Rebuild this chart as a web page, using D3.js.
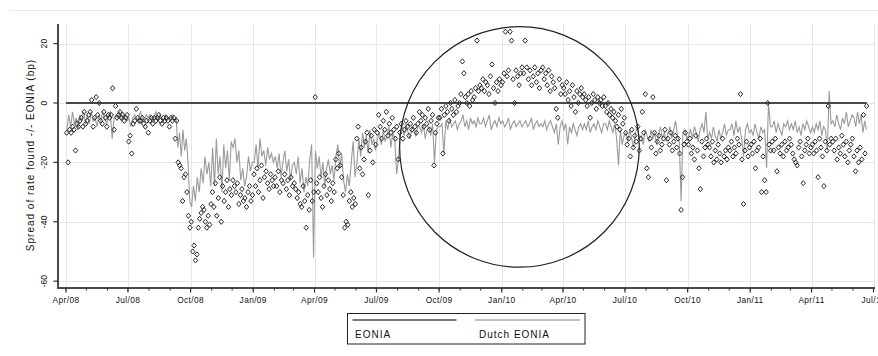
<!DOCTYPE html>
<html>
<head>
<meta charset="utf-8">
<script src="https://cdn.jsdelivr.net/npm/d3@7"></script>
<style>
  body { margin: 0; background: #fff; }
  text { font-family: "Liberation Sans", Arial, sans-serif; fill: #111; }
</style>
</head>
<body>
<svg id="chart" width="878" height="356"></svg>
<script>
// Months covered by the observations; each month's values are spread evenly over that month.
const months = [
  "2008-04","2008-05","2008-06","2008-07","2008-08","2008-09","2008-10","2008-11","2008-12",
  "2009-01","2009-02","2009-03","2009-04","2009-05","2009-06","2009-07","2009-08","2009-09","2009-10","2009-11","2009-12",
  "2010-01","2010-02","2010-03","2010-04","2010-05","2010-06","2010-07","2010-08","2010-09","2010-10","2010-11","2010-12",
  "2011-01","2011-02","2011-03","2011-04","2011-05","2011-06"
];
const firstObs = "2008-04-01";
const lastObs = "2011-06-21";

// Dutch EONIA minus EONIA (bp), per month
const dutchEonia = [
  [-9,-4,-8,-3,-7,-5,-9,-4,-6,-3,-7],
  [-4,-7,-3,-6,-5,-8,-4,-6,-3,-5,-7],
  [-4,-3,-12,-5,-4,-5,-3,-6,-4,-5,-6],
  [-5,-8,-5,-4,-6,-5,-3,-5,-6,-4,-5],
  [-4,-6,-5,-3,-6,-4,-5,-6,-4,-5,-5],
  [-5,-4,-6,-5,-15,-10,-18,-9,-16,-12,-20,-33],
  [-35,-28,-33,-25,-30,-22,-27,-18,-24,-20,-28],
  [-15,-28,-12,-24,-18,-30,-14,-22,-16,-26,-13],
  [-15,-12,-20,-16,-26,-22,-28,-25,-18,-23,-20],
  [-20,-14,-22,-12,-18,-16,-21,-15,-19,-17,-20],
  [-18,-22,-17,-25,-20,-16,-23,-19,-26,-21],
  [-20,-24,-18,-27,-22,-30,-25,-28,-19,-14,-52],
  [-16,-22,-18,-25,-20,-28,-22,-19,-24,-21,-26],
  [-18,-14,-22,-17,-26,-30,-24,-28,-20,-13,-25],
  [-20,-12,-18,-10,-15,-11,-17,-9,-14,-12,-16],
  [-12,-10,-14,-9,-13,-11,-8,-15,-10,-12,-24],
  [-19,-9,-8,-11,-7,-10,-12,-8,-9,-11,-8],
  [-8,-10,-7,-12,-9,-8,-11,-7,-20,-9,-8],
  [-8,-7,-17,-6,-9,-5,-8,-7,-6,-9,-7],
  [-6,-4,-8,-6,-9,-5,-7,-6,-8,-5,-7],
  [-7,-5,-8,-6,-4,-9,-7,-6,-8,-5,-7],
  [-6,-8,-7,-5,-9,-7,-6,-8,-7,-6,-8],
  [-7,-6,-8,-7,-5,-9,-7,-6,-8,-7],
  [-8,-6,-9,-7,-6,-8,-10,-7,-14,-8,-6],
  [-9,-7,-14,-8,-10,-7,-9,-11,-8,-7,-9],
  [-7,-9,-6,-10,-8,-7,-9,-6,-8,-10,-7],
  [-7,-9,-6,-8,-10,-7,-12,-21,-9,-14,-11],
  [-10,-13,-9,-12,-15,-10,-8,-12,-11,-14,-9],
  [-11,-13,-9,-12,-10,-14,-11,-8,-12,-10,-13],
  [-10,-8,-12,-9,-6,-11,-13,-33,-10,-9,-12],
  [-11,-9,-12,-8,-10,-13,-9,-7,-10,-3,-12],
  [-10,-12,-8,-11,-13,-9,-12,-10,-7,-11,-9],
  [-9,-7,-11,-6,-10,-8,-12,-18,-9,-7,-10],
  [-9,-11,-7,-10,-12,-8,-10,-9,-22,0,-8],
  [-8,-6,-10,-7,-9,-11,-7,-8,-6,-9],
  [-7,-9,-6,-10,-8,-11,-7,-9,-6,-8,-10],
  [-8,-10,-7,-9,-6,-11,-8,-9,-16,4,-7],
  [-6,-8,-4,-7,-9,-5,-7,-3,-8,-6,-4],
  [-5,-8,-3,-7,-4,-10,-6,-9]
];

// Rates found minus EONIA (bp), per month
const ratesFound = [
  [-10,-20,-9,-10,-8,-9,-16,-7,-8,-6,-5,-8,-3,-7],
  [-6,-4,-3,1,-8,-5,2,-4,0,-6,-7,-3,-5,-8],
  [-4,-5,-4,5,-9,-1,-5,-4,-3,-5,-4,-6,-5,-4],
  [-13,-11,-17,-7,-6,-2,-5,-6,-6,-5,-7,-8,-6,-10],
  [-6,-5,-7,-5,-6,-5,-4,-6,-7,-5,-6,-5,-6,-8],
  [-5,-6,-5,-12,-6,-20,-21,-22,-33,-25,-24,-30,-38,-42],
  [-40,-50,-48,-53,-51,-42,-39,-37,-35,-36,-40,-42,-38,-41,-34],
  [-30,-35,-27,-38,-32,-25,-40,-28,-33,-30,-26,-35,-29,-31],
  [-26,-28,-30,-27,-34,-31,-29,-33,-32,-35,-30,-28,-33,-31],
  [-24,-28,-22,-30,-26,-21,-32,-25,-23,-27,-29,-24,-26,-28],
  [-25,-28,-23,-30,-26,-27,-24,-29,-26,-31,-25,-28],
  [-27,-29,-32,-30,-34,-35,-28,-33,-42,-31,-36,-26,-33,-30],
  [2,-27,-30,-25,-32,-35,-28,-24,-31,-26,-29,-33,-27,-30],
  [-19,-22,-17,-21,-25,-31,-42,-40,-41,-33,-30,-35,-32,-34],
  [-12,-8,-22,-15,-24,-19,-13,-10,-31,-16,-11,-20,-9,-14],
  [-10,-4,-8,-12,-6,-9,-3,-11,-7,-10,-5,-9,-12,-8],
  [-19,-10,-7,-12,-9,-6,-8,-11,-7,-9,-5,-8,-10,-7],
  [-3,-6,-4,-8,-5,-7,-2,-9,-6,-4,-21,-10,-7,-5],
  [-5,-2,-17,-4,-1,-3,-6,0,-2,-4,1,-3,-1,0],
  [3,14,10,2,0,3,-1,4,1,2,5,21,4,6],
  [5,8,4,7,6,3,9,13,5,0,7,4,8,6],
  [7,10,24,9,11,24,21,8,0,11,9,6,10,12],
  [10,21,12,8,11,6,9,12,7,10,5,11],
  [12,8,10,6,11,4,9,7,5,-2,-5,8,3,6],
  [5,3,7,1,4,-1,6,2,-3,4,0,3,5,2],
  [3,1,-1,2,-5,0,3,1,-2,2,0,1,-1,2],
  [-1,-3,0,-4,-2,-5,-3,-6,-8,-4,-9,-2,-7,-5],
  [-10,-14,-12,-18,-9,-15,-11,-13,-8,-16,-12,-3,-10,3],
  [-22,-25,-12,-15,2,-10,-17,-13,-11,-16,-14,-12,-9,-26],
  [-12,-14,-10,-16,-13,-11,-15,-12,-17,-36,-25,-14,-10,-13],
  [-14,-12,-17,-15,-19,-11,-16,-22,-29,-13,-18,-15,-12,-14],
  [-15,-18,-13,-20,-16,-19,-14,-17,-20,-12,-18,-16,-19,-15],
  [-16,-13,-18,-15,-17,-12,-14,3,-19,-34,-16,-13,-18,-15],
  [-14,-17,-13,-22,-16,-15,-12,-30,-18,-26,-30,0,-14,-16],
  [-13,-16,-12,-23,-15,-17,-14,-18,-13,-16,-15,-12],
  [-14,-17,-19,-20,-21,-15,-13,-18,-27,-16,-14,-12,-17,-15],
  [-14,-17,-13,-16,-25,-12,-15,-18,-28,-13,-16,-1,-14,-12],
  [-13,-16,-12,-19,-15,-17,-11,-14,-18,-13,-20,-16,-14,-12],
  [-18,-23,-16,-20,-15,-19,-4,-17,-1]
];

// EONIA measured against itself: a flat zero line over the observation period
const eoniaSpread = [0, 0];

const yTicks = [20, 0, -20, -40, -60];
const xDomain = ["2008-04-01", "2011-07-01"];
const yDomain = [-62.3, 26.6];
const legendLabels = ["EONIA", "Dutch EONIA"];

// Highlighted period (ellipse around the positive-spread episode)
const highlightCenter = "2010-01-27";
const highlightCenterBp = -14.8;
const highlightHalfDays = 176;
const highlightHalfBp = 40.5;

// ---------------------------------------------------------------
const svg = d3.select("#chart");
const parseMonth = d3.utcParse("%Y-%m");
const parseDay = d3.utcParse("%Y-%m-%d");

const x = d3.scaleUtc().domain(xDomain.map(parseDay)).range([66, 873.5]);
const y = d3.scaleLinear().domain(yDomain).range([288, 24]);
const plotLeft = 58, plotRight = 875;

function spread(series) {
  const out = [];
  series.forEach((vals, i) => {
    const start = parseMonth(months[i]);
    const end = i === months.length - 1
      ? d3.utcDay.offset(parseDay(lastObs), 1)
      : d3.utcMonth.offset(start, 1);
    const span = end - start;
    vals.forEach((v, j) => out.push({ date: new Date(+start + (j + 0.5) / vals.length * span), value: v }));
  });
  return out;
}
const dutchPts = spread(dutchEonia);
const foundPts = spread(ratesFound);

// faint outer frame line
svg.append("line").attr("x1", 10).attr("x2", 878).attr("y1", 10.5).attr("y2", 10.5)
  .attr("stroke", "#e3ecec").attr("stroke-width", 1);

const quarters = d3.utcMonth.every(3).range(parseDay(xDomain[0]), d3.utcDay.offset(parseDay(xDomain[1]), 1));
const monthsAll = d3.utcMonth.range(parseDay(xDomain[0]), d3.utcDay.offset(parseDay(xDomain[1]), 1));

// gridlines
const grid = svg.append("g").attr("stroke", "#deeaee").attr("stroke-width", 1);
grid.selectAll(".vg").data(quarters).join("line")
  .attr("x1", d => Math.round(x(d)) + 0.5).attr("x2", d => Math.round(x(d)) + 0.5)
  .attr("y1", y.range()[1]).attr("y2", y.range()[0]);
grid.selectAll(".hg").data(yTicks).join("line")
  .attr("x1", plotLeft).attr("x2", plotRight)
  .attr("y1", d => Math.round(y(d)) + 0.5).attr("y2", d => Math.round(y(d)) + 0.5);

// Dutch EONIA spread
svg.append("path").datum(dutchPts)
  .attr("fill", "none").attr("stroke", "#9b9b9b").attr("stroke-width", 1.1)
  .attr("d", d3.line().x(d => x(d.date)).y(d => y(d.value)));

// EONIA zero line
const eoniaDates = [parseDay(firstObs), parseDay(lastObs)];
svg.append("path").datum(eoniaSpread.map((v, i) => ({ date: eoniaDates[i], value: v })))
  .attr("fill", "none").attr("stroke", "#4a4a4a").attr("stroke-width", 2)
  .attr("d", d3.line().x(d => x(d.date)).y(d => y(d.value)));

// rates found: hollow diamonds
svg.append("g").selectAll("path").data(foundPts).join("path")
  .attr("transform", d => `translate(${x(d.date).toFixed(1)},${y(d.value).toFixed(1)})`)
  .attr("d", "M0,-2.6L2.2,0L0,2.6L-2.2,0Z")
  .attr("fill", "none").attr("stroke", "#2a2a2a").attr("stroke-width", 1);

// highlight ellipse
const hc = parseDay(highlightCenter);
svg.append("ellipse")
  .attr("cx", x(hc)).attr("cy", y(highlightCenterBp))
  .attr("rx", x(d3.utcDay.offset(hc, highlightHalfDays)) - x(hc))
  .attr("ry", y(highlightCenterBp - highlightHalfBp) - y(highlightCenterBp))
  .attr("fill", "none").attr("stroke", "#222").attr("stroke-width", 1.2);

// x axis
const fmt = d3.utcFormat("%b/%y");
const xAxisG = svg.append("g").attr("transform", "translate(0,288)");
xAxisG.append("line").attr("x1", plotLeft).attr("x2", plotRight).attr("y1", 0).attr("y2", 0)
  .attr("stroke", "#4a4a4a").attr("stroke-width", 2);
xAxisG.selectAll(".mn").data(monthsAll).join("line")
  .attr("x1", d => x(d)).attr("x2", d => x(d)).attr("y1", 0).attr("y2", 2.5)
  .attr("stroke", "#333").attr("stroke-width", 1);
xAxisG.selectAll(".mj").data(quarters).join("line")
  .attr("x1", d => x(d)).attr("x2", d => x(d)).attr("y1", 0).attr("y2", 4.5)
  .attr("stroke", "#333").attr("stroke-width", 1.2);
xAxisG.selectAll("text").data(quarters).join("text")
  .attr("x", d => x(d)).attr("y", 14.7)
  .attr("text-anchor", "middle").attr("font-size", 8.3).attr("letter-spacing", 0.4)
  .text(d => fmt(d));

// y axis
const yAxisG = svg.append("g");
yAxisG.append("line").attr("x1", plotLeft).attr("x2", plotLeft).attr("y1", y.range()[1]).attr("y2", y.range()[0] + 1)
  .attr("stroke", "#4a4a4a").attr("stroke-width", 2);
yAxisG.selectAll(".yt").data(yTicks).join("line")
  .attr("x1", plotLeft - 4.5).attr("x2", plotLeft).attr("y1", d => y(d)).attr("y2", d => y(d))
  .attr("stroke", "#333").attr("stroke-width", 1.2);
yAxisG.selectAll("text").data(yTicks).join("text")
  .attr("transform", d => `translate(47,${y(d)}) rotate(-90)`)
  .attr("text-anchor", "middle").attr("font-size", 8.5).attr("letter-spacing", 0.2)
  .text(d => d);

svg.append("text")
  .attr("transform", "translate(33.5,155) rotate(-90)")
  .attr("text-anchor", "middle").attr("font-size", 10).attr("letter-spacing", 1)
  .text("Spread of rate found -/- EONIA (bp)");

// legend
const lg = svg.append("g");
lg.append("rect").attr("x", 347.5).attr("y", 313.5).attr("width", 237.5).attr("height", 30.5)
  .attr("fill", "#fff").attr("stroke", "#222").attr("stroke-width", 1);
const legendStyles = [
  { x1: 352.5, x2: 456.5, color: "#4a4a4a", tx: 355 },
  { x1: 475, x2: 580, color: "#ababab", tx: 479 }
];
legendLabels.forEach((label, i) => {
  const s = legendStyles[i];
  lg.append("line").attr("x1", s.x1).attr("x2", s.x2).attr("y1", 320).attr("y2", 320)
    .attr("stroke", s.color).attr("stroke-width", 1.5);
  lg.append("text").attr("x", s.tx).attr("y", 337.5)
    .attr("font-size", 10).attr("letter-spacing", 1).text(label);
});
</script>
</body>
</html>
